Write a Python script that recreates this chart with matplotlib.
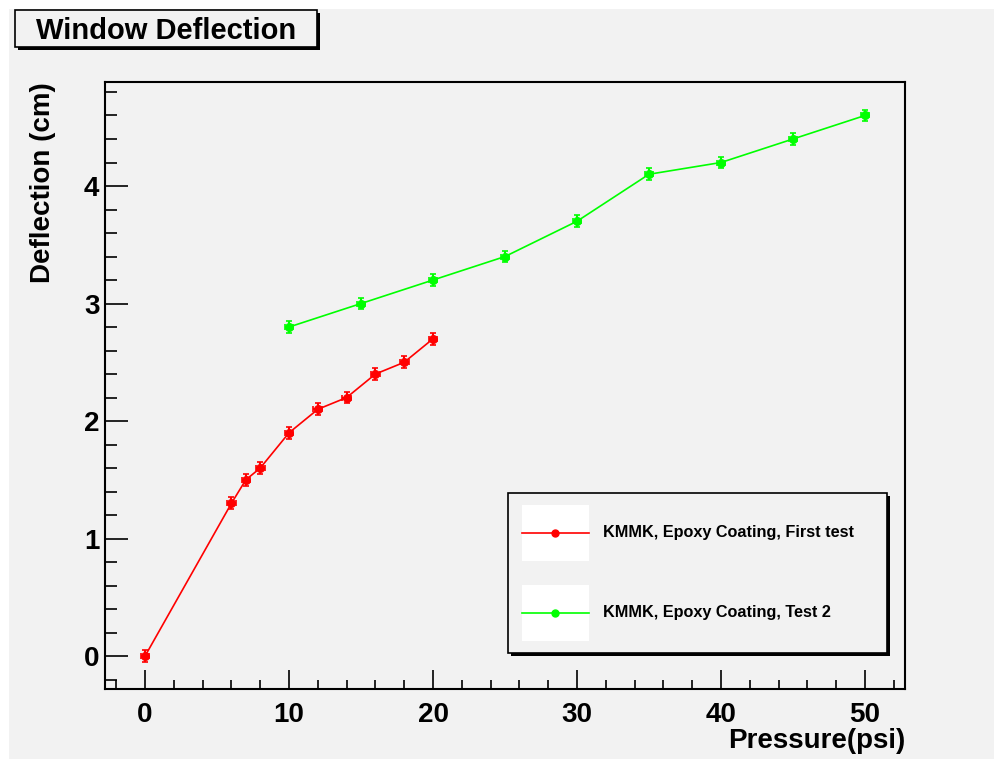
import matplotlib.pyplot as plt
from matplotlib.patches import Rectangle
from matplotlib.lines import Line2D
from matplotlib.ticker import MultipleLocator

plt.rcParams['font.family'] = ['Liberation Sans', 'DejaVu Sans']
plt.rcParams['font.weight'] = 'bold'

# first test
p1 = [0, 6, 7, 8, 10, 12, 14, 16, 18, 20]
d1 = [0.0, 1.3, 1.5, 1.6, 1.9, 2.1, 2.2, 2.4, 2.5, 2.7]
# test 2
p2 = [10, 15, 20, 25, 30, 35, 40, 45, 50]
d2 = [2.8, 3.0, 3.2, 3.4, 3.7, 4.1, 4.2, 4.4, 4.6]
err_p = 0.3
err_d = 0.05

labels = ["KMMK, Epoxy Coating, First test", "KMMK, Epoxy Coating, Test 2"]
colors = ["#ff0000", "#00ff00"]

W, H = 995, 759
BG = "#f2f2f2"

fig = plt.figure(figsize=(W / 100, H / 100), dpi=100, facecolor="white")


def fx(px):
    return px / W


def fy(py):
    return 1 - py / H


# canvas
fig.patches.append(Rectangle((fx(9), 0), 1 - fx(9), fy(9), transform=fig.transFigure,
                             facecolor=BG, edgecolor="none", zorder=-10))

ax = fig.add_axes([fx(105), fy(689), fx(905) - fx(105), fy(82) - fy(689)])
ax.set_facecolor(BG)

for x, y, c in [(p1, d1, colors[0]), (p2, d2, colors[1])]:
    ax.plot(x, y, color=c, lw=1.2, zorder=2)
    ax.errorbar(x, y, xerr=err_p, yerr=err_d, fmt='o', color=c, ms=5.5,
                elinewidth=1.5, capsize=2.5, capthick=1.2, zorder=3)

ax.set_xlim(-2.78, 52.78)
ax.set_ylim(-0.28, 4.885)
ax.xaxis.set_major_locator(MultipleLocator(10))
ax.xaxis.set_minor_locator(MultipleLocator(2))
ax.yaxis.set_major_locator(MultipleLocator(1))
ax.yaxis.set_minor_locator(MultipleLocator(0.2))

ax.tick_params(axis='both', which='both', direction='in', top=False, right=False,
               width=1.2, color='black', labelsize=20)
ax.tick_params(axis='x', which='major', length=14, pad=9)
ax.tick_params(axis='x', which='minor', length=6.5)
ax.tick_params(axis='y', which='major', length=16.5, pad=4)
ax.tick_params(axis='y', which='minor', length=8.5)
for lab in ax.get_xticklabels() + ax.get_yticklabels():
    lab.set_fontweight('bold')
for s in ax.spines.values():
    s.set_linewidth(1.5)

ax.set_xlabel("Pressure(psi)", loc='right', fontsize=20, fontweight='bold', labelpad=0)
ax.set_ylabel("Deflection (cm)", loc='top', fontsize=20, fontweight='bold', labelpad=20)

# title box
def boxed(x0, y0, x1, y1):
    fig.patches.append(Rectangle((fx(x0 + 3), fy(y1 + 3)), fx(x1 - x0), fy(y0) - fy(y1),
                                 transform=fig.transFigure, facecolor='black',
                                 edgecolor='none', zorder=5))
    fig.patches.append(Rectangle((fx(x0), fy(y1)), fx(x1 - x0), fy(y0) - fy(y1),
                                 transform=fig.transFigure, facecolor=BG,
                                 edgecolor='black', lw=1.2, zorder=6))


boxed(15, 10, 317, 47)
fig.text(fx(166), fy(31), "Window Deflection", ha='center', va='center',
         fontsize=21, fontweight='bold', zorder=7)

# legend
boxed(508, 493, 887, 653)
for i, (lab, c) in enumerate(zip(labels, colors)):
    ymid = 533 + i * 80
    fig.patches.append(Rectangle((fx(522), fy(ymid + 28)), fx(589 - 522), fy(0) - fy(56),
                                 transform=fig.transFigure, facecolor='white',
                                 edgecolor='none', zorder=7))
    fig.lines.append(Line2D([fx(522), fx(589)], [fy(ymid), fy(ymid)], color=c, lw=1.2,
                            transform=fig.transFigure, zorder=8))
    fig.lines.append(Line2D([fx(555.5)], [fy(ymid)], color=c, marker='o', ms=5,
                            transform=fig.transFigure, zorder=9))
    fig.text(fx(603), fy(ymid), lab, ha='left', va='center', fontsize=11.7,
             fontweight='bold', zorder=9)

fig.savefig("out.png", dpi=100, facecolor=fig.get_facecolor())
